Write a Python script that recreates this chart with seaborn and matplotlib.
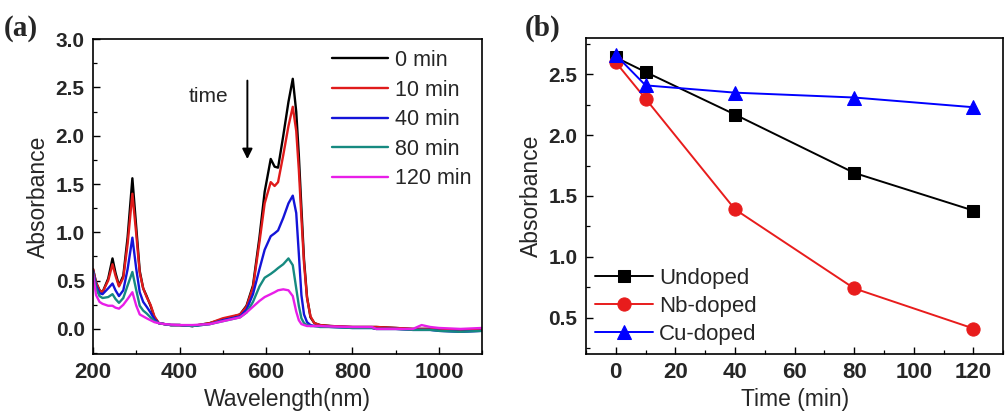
import matplotlib
matplotlib.use('Agg')
import matplotlib.pyplot as plt
import numpy as np
import pandas as pd
import seaborn as sns
from matplotlib.ticker import MultipleLocator

# panel (a): absorption spectra
wavelength = [200, 207, 215, 222, 235, 245, 252, 260, 270, 280,
              291, 300, 308, 316, 324, 333, 342, 352, 365, 380,
              400, 430, 470, 500, 520, 540, 555, 570, 585, 597,
              611, 620, 628, 640, 652, 662, 670, 676, 682, 688,
              695, 703, 712, 725, 750, 800, 845, 855, 900, 940,
              960, 980, 1000, 1050, 1100]
abs_0min = [0.62, 0.48, 0.40, 0.38, 0.52, 0.73, 0.58, 0.45, 0.55, 0.95,
            1.56, 1.05, 0.60, 0.42, 0.34, 0.24, 0.12, 0.06, 0.05, 0.04,
            0.04, 0.03, 0.06, 0.10, 0.12, 0.15, 0.24, 0.45, 0.95, 1.42,
            1.76, 1.68, 1.67, 2.00, 2.35, 2.59, 2.25, 1.80, 1.25, 0.72,
            0.33, 0.12, 0.06, 0.04, 0.03, 0.02, 0.02, 0.02, 0.01, 0.00,
            0.00, 0.00, 0.00, -0.01, 0.00]
abs_10min = [0.62, 0.48, 0.40, 0.38, 0.50, 0.67, 0.55, 0.44, 0.53, 0.88,
             1.40, 0.98, 0.58, 0.42, 0.33, 0.25, 0.13, 0.06, 0.05, 0.04,
             0.04, 0.03, 0.06, 0.11, 0.13, 0.15, 0.23, 0.43, 0.90, 1.30,
             1.52, 1.48, 1.52, 1.80, 2.10, 2.30, 2.05, 1.65, 1.15, 0.68,
             0.32, 0.13, 0.06, 0.04, 0.03, 0.02, 0.02, 0.02, 0.01, 0.00,
             0.00, 0.00, 0.00, -0.01, 0.00]
abs_40min = [0.60, 0.45, 0.37, 0.36, 0.42, 0.47, 0.40, 0.34, 0.40, 0.62,
             0.945, 0.62, 0.38, 0.28, 0.23, 0.17, 0.10, 0.06, 0.05, 0.04,
             0.04, 0.03, 0.05, 0.09, 0.11, 0.13, 0.20, 0.36, 0.62, 0.82,
             0.96, 0.99, 1.02, 1.15, 1.30, 1.38, 1.20, 0.78, 0.35, 0.15,
             0.07, 0.04, 0.03, 0.03, 0.02, 0.01, 0.01, 0.00, 0.00, -0.01,
             -0.01, -0.01, -0.02, -0.03, -0.02]
abs_80min = [0.59, 0.42, 0.34, 0.32, 0.33, 0.36, 0.31, 0.27, 0.32, 0.45,
             0.59, 0.40, 0.24, 0.19, 0.16, 0.12, 0.08, 0.06, 0.05, 0.04,
             0.04, 0.03, 0.05, 0.08, 0.10, 0.12, 0.17, 0.28, 0.44, 0.53,
             0.57, 0.60, 0.63, 0.67, 0.73, 0.66, 0.42, 0.24, 0.11, 0.06,
             0.04, 0.03, 0.03, 0.02, 0.02, 0.01, 0.01, 0.00, 0.00, -0.01,
             -0.01, -0.01, -0.02, -0.03, -0.02]
abs_120min = [0.57, 0.35, 0.28, 0.26, 0.24, 0.24, 0.22, 0.21, 0.25, 0.31,
              0.38, 0.24, 0.15, 0.13, 0.11, 0.09, 0.07, 0.06, 0.05, 0.045,
              0.04, 0.04, 0.05, 0.08, 0.10, 0.12, 0.17, 0.23, 0.29, 0.33,
              0.36, 0.38, 0.40, 0.41, 0.40, 0.34, 0.18, 0.09, 0.05, 0.04,
              0.03, 0.03, 0.03, 0.03, 0.025, 0.02, 0.02, 0.00, 0.00, 0.00,
              0.04, 0.02, 0.01, 0.00, 0.01]
spectra_labels = ['0 min', '10 min', '40 min', '80 min', '120 min']
spectra_colors = ['#000000', '#e01b1b', '#1414d8', '#168a80', '#e81ee8']

# panel (b): absorbance at peak vs time
time_min = [0, 10, 40, 80, 120]
undoped = [2.64, 2.52, 2.17, 1.69, 1.38]
nb_doped = [2.60, 2.30, 1.39, 0.74, 0.41]
cu_doped = [2.66, 2.41, 2.35, 2.31, 2.23]

sns.set_theme(style='ticks')
plt.rcParams['font.family'] = ['Liberation Sans', 'DejaVu Sans']
plt.rcParams['axes.linewidth'] = 1.2

spec = pd.DataFrame({
    'wavelength': wavelength * 5,
    'absorbance': abs_0min + abs_10min + abs_40min + abs_80min + abs_120min,
    'time': [lab for lab in spectra_labels for _ in wavelength],
})

fig = plt.figure(figsize=(10.08, 4.17), dpi=100)
ax_a = fig.add_axes([0.0923, 0.151, 0.386, 0.755])
ax_b = fig.add_axes([0.5813, 0.151, 0.414, 0.758])

sns.lineplot(data=spec, x='wavelength', y='absorbance', hue='time', hue_order=spectra_labels,
             palette=spectra_colors, linewidth=1.7, ax=ax_a)
ax_a.set_xlim(200, 1100)
ax_a.set_ylim(-0.26, 3.0)
ax_a.xaxis.set_major_locator(MultipleLocator(200))
ax_a.xaxis.set_minor_locator(MultipleLocator(100))
ax_a.yaxis.set_major_locator(MultipleLocator(0.5))
ax_a.yaxis.set_minor_locator(MultipleLocator(0.25))
ax_a.set_xlabel('Wavelength(nm)', fontsize=16.5, labelpad=3)
ax_a.set_ylabel('Absorbance', fontsize=16.5, labelpad=4)
ax_a.legend(loc='upper right', frameon=False, fontsize=15.5, handlelength=2.6,
            handletextpad=0.3, labelspacing=0.4, borderaxespad=0.2, borderpad=0.3)
ax_a.annotate('', xy=(557, 1.73), xytext=(557, 2.6),
              arrowprops=dict(arrowstyle='-|>', color='black', lw=1.4, mutation_scale=15))
ax_a.text(467, 2.41, 'time', fontsize=15, ha='center', va='center')

series_b = [('Undoped', undoped, '#000000', 's', 8.5),
            ('Nb-doped', nb_doped, '#e81c1c', 'o', 9.5),
            ('Cu-doped', cu_doped, '#0000ff', '^', 10)]
for name, vals, color, marker, ms in series_b:
    sns.lineplot(x=time_min, y=vals, color=color, marker=marker, markersize=ms,
                 markeredgecolor=color, linewidth=1.4, label=name, ax=ax_b)
ax_b.set_xlim(-10, 130)
ax_b.set_ylim(0.2, 2.8)
ax_b.xaxis.set_major_locator(MultipleLocator(20))
ax_b.xaxis.set_minor_locator(MultipleLocator(10))
ax_b.yaxis.set_major_locator(MultipleLocator(0.5))
ax_b.yaxis.set_minor_locator(MultipleLocator(0.25))
ax_b.set_xlabel('Time (min)', fontsize=16.5, labelpad=3)
ax_b.set_ylabel('Absorbance', fontsize=16.5, labelpad=4)
ax_b.legend(loc='lower left', frameon=False, fontsize=16, handlelength=2.6,
            handletextpad=0.3, labelspacing=0.32, borderaxespad=0.1, borderpad=0.3)

for ax in (ax_a, ax_b):
    ax.tick_params(which='both', direction='in', top=False, right=False, color='black')
    ax.tick_params(which='major', length=5, width=1.0, pad=6)
    ax.tick_params(which='minor', length=3, width=0.9)
    ax.tick_params(axis='x', which='major', labelsize=16)
    ax.tick_params(axis='y', which='major', labelsize=15)
    for lab in ax.get_xticklabels() + ax.get_yticklabels():
        lab.set_fontweight('bold')
    for sp in ax.spines.values():
        sp.set_visible(True)
        sp.set_color('black')

fig.text(0.004, 0.9, '(a)', fontsize=21, fontweight='bold', family='Liberation Serif', va='bottom')
fig.text(0.521, 0.9, '(b)', fontsize=21, fontweight='bold', family='Liberation Serif', va='bottom')

fig.savefig('out.png', dpi=100)
